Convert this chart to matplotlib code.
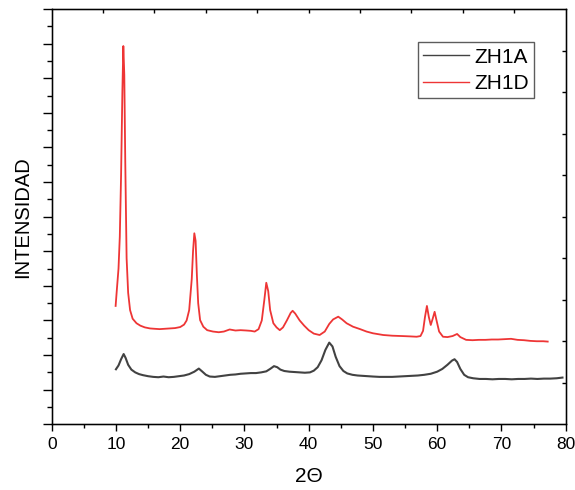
import matplotlib
matplotlib.use("Agg")
import matplotlib.pyplot as plt
from matplotlib.ticker import MultipleLocator

plt.rcParams['font.family'] = ['Liberation Sans', 'DejaVu Sans']

# ZH1A diffractogram (2theta, intensity a.u.)
zh1a_x = [10.0, 10.4, 10.8, 11.2, 11.5, 11.9, 12.4, 13.0, 13.6, 14.2, 15.0, 15.8,
          16.6, 17.4, 18.2, 19.0, 19.8, 20.6, 21.4, 22.2, 22.9, 23.4, 24.0, 24.6,
          25.4, 26.2, 27.0, 27.8, 28.6, 29.4, 30.2, 31.0, 31.8, 32.6, 33.4, 34.0,
          34.6, 35.1, 35.6, 36.2, 37.0, 37.8, 38.6, 39.4, 40.2, 40.8, 41.4, 42.0,
          42.6, 43.2, 43.7, 44.2, 44.8, 45.4, 46.0, 46.8, 47.6, 48.4, 49.2, 50.0,
          51.0, 52.0, 53.0, 54.0, 55.0, 56.0, 57.0, 58.0, 59.0, 60.0, 60.8, 61.6,
          62.3, 62.7, 63.1, 63.6, 64.2, 64.8, 65.6, 66.6, 67.6, 68.6, 69.6, 70.6,
          71.6, 72.6, 73.6, 74.6, 75.6, 76.6, 77.6, 78.6, 79.5]
zh1a_y = [159, 170, 188, 203, 192, 172, 158, 150, 145, 142, 139, 137,
          136, 138, 136, 137, 139, 141, 145, 152, 161, 153, 143, 138,
          137, 139, 141, 143, 144, 146, 147, 148, 148, 150, 153, 160,
          168, 165, 158, 154, 152, 151, 150, 149, 150, 155, 165, 185,
          215, 236, 225, 195, 168, 154, 147, 143, 141, 140, 139, 138,
          137, 137, 137, 138, 139, 140, 141, 143, 146, 152, 160, 172,
          184, 188, 180, 160, 143, 136, 133, 131, 131, 130, 131, 131,
          130, 131, 131, 132, 131, 132, 132, 133, 135]

# ZH1D diffractogram (2theta, intensity a.u.)
zh1d_x = [9.95, 10.1, 10.4, 10.6, 10.8, 11.0, 11.15, 11.3, 11.45, 11.66, 11.9, 12.2,
          12.6, 13.2, 13.8, 14.5, 15.3, 16.0, 16.8, 17.6, 18.4, 19.2, 20.0, 20.6,
          21.0, 21.4, 21.8, 22.0, 22.2, 22.4, 22.6, 22.8, 23.1, 23.6, 24.2, 25.1,
          26.0, 26.8, 27.7, 28.6, 29.4, 30.3, 31.0, 31.6, 32.2, 32.7, 33.1, 33.4,
          33.7, 34.0, 34.5, 35.0, 35.5, 36.0, 36.6, 37.2, 37.5, 37.9, 38.6, 39.3,
          40.0, 40.8, 41.7, 42.5, 43.2, 43.8, 44.6, 45.2, 45.9, 46.9, 48.0, 49.0,
          50.0, 51.6, 53.0, 54.5, 55.8, 56.8, 57.4, 57.8, 58.1, 58.4, 58.7, 59.0,
          59.3, 59.6, 59.9, 60.3, 60.9, 61.6, 62.4, 63.1, 63.6, 64.5, 65.5, 66.5,
          67.5, 68.5, 69.5, 70.5, 71.5, 72.5, 73.5, 74.5, 75.5, 76.5, 77.2]
zh1d_y = [342, 379, 450, 542, 720, 960, 1093, 1010, 760, 480, 380, 330,
          305, 292, 285, 280, 277, 276, 275, 276, 277, 278, 281, 288,
          300, 330, 420, 500, 552, 530, 430, 350, 301, 282, 272, 268,
          266, 268, 274, 271, 272, 271, 270, 268, 275, 300, 360, 409,
          385, 330, 292, 280, 272, 280, 300, 322, 328, 320, 300, 285,
          272, 262, 258, 268, 290, 303, 311, 303, 292, 282, 275, 268,
          263, 258, 256, 255, 254, 253, 255, 270, 310, 342, 310, 287,
          305, 325, 300, 268, 253, 252, 255, 261, 252, 244, 243, 244,
          244, 245, 245, 246, 247, 244, 243, 241, 240, 240, 239]

fig = plt.figure(figsize=(5.75, 4.9), dpi=100)
ax = fig.add_axes([0.0899, 0.1341, 0.8939, 0.8475])

ax.plot(zh1a_x, zh1a_y, color='#424242', lw=1.5, label='ZH1A')
ax.plot(zh1d_x, zh1d_y, color='#ee3535', lw=1.3, label='ZH1D')

ax.set_xlim(0, 80)
ax.set_ylim(0, 1200)
ax.xaxis.set_major_locator(MultipleLocator(10))
ax.xaxis.set_minor_locator(MultipleLocator(5))
ax.yaxis.set_major_locator(MultipleLocator(100))
ax.yaxis.set_minor_locator(MultipleLocator(50))
ax.tick_params(axis='x', which='major', direction='out', length=5.3, width=1.0,
               labelsize=12.5, pad=4)
ax.tick_params(axis='x', which='minor', direction='out', length=3.0, width=1.0)
ax.tick_params(axis='y', which='major', direction='out', length=6.5, width=1.0,
               labelleft=False)
ax.tick_params(axis='y', which='minor', direction='out', length=3.6, width=1.0)
for s in ax.spines.values():
    s.set_linewidth(1.0)
    s.set_color('black')

# right-hand and top frame ticks: ten equal divisions each
axr = ax.twinx()
axr.set_ylim(0, 10)
axr.set_yticks(range(1, 10))
axr.tick_params(axis='y', direction='in', length=3.0, width=1.0, labelright=False)
axt = ax.twiny()
axt.set_xlim(0, 10)
axt.set_xticks(range(1, 10))
axt.tick_params(axis='x', direction='in', length=3.0, width=1.0, labeltop=False)

ax.set_xlabel('2\u0398', fontsize=15, labelpad=11)
ax.set_ylabel('INTENSIDAD', fontsize=14.5, labelpad=7.5)

leg = ax.legend(loc='upper left', bbox_to_anchor=(418 / 575, 1 - 42.5 / 490),
                bbox_transform=fig.transFigure, fontsize=15, frameon=True,
                fancybox=False, edgecolor='#333333', handlelength=2.2,
                handletextpad=0.25, borderpad=0.25, labelspacing=0.35,
                borderaxespad=0)
leg.get_frame().set_linewidth(1.0)
for ln in leg.get_lines():
    ln.set_linewidth(1.0)

fig.savefig('out.png', dpi=100)
